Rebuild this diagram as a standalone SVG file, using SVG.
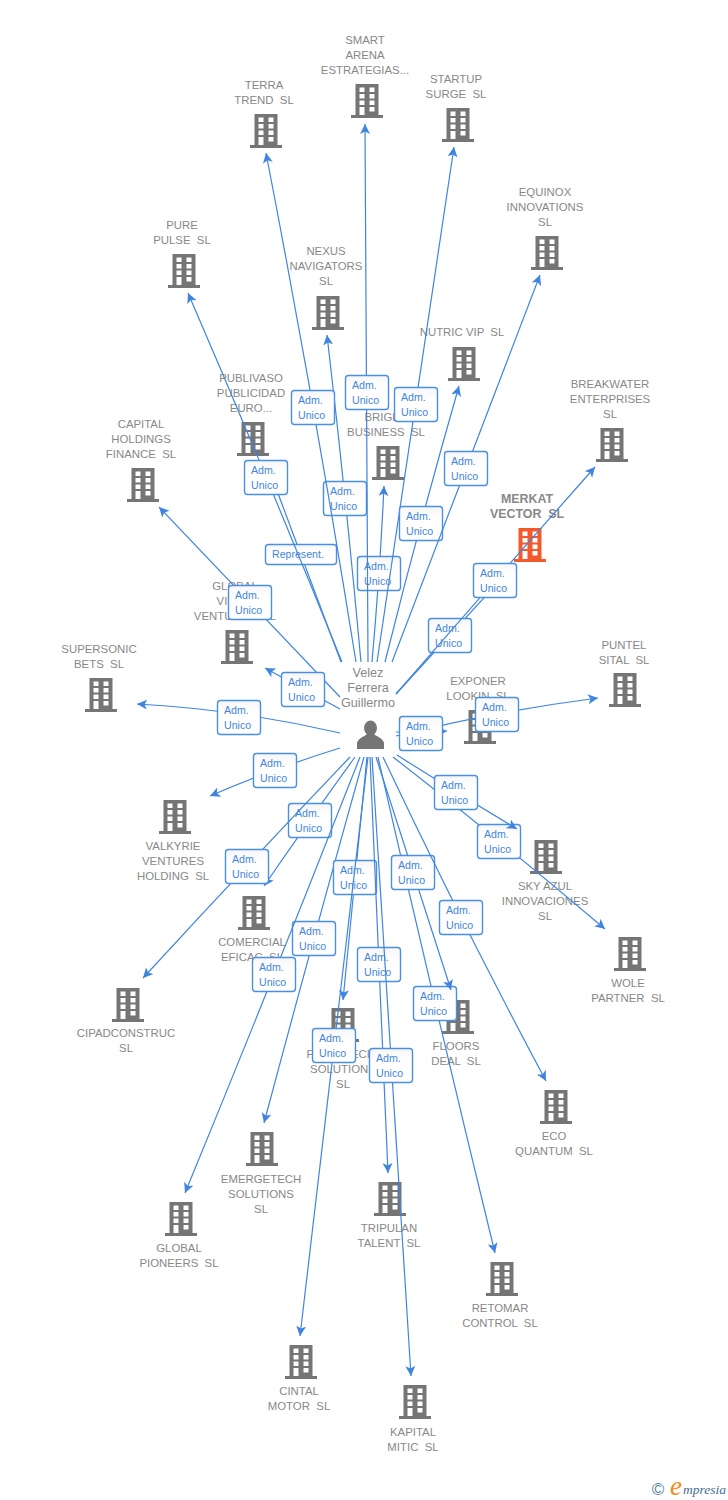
<svg xmlns="http://www.w3.org/2000/svg" width="728" height="1500" viewBox="0 0 728 1500">
<style>
text{font-family:"Liberation Sans",Arial,sans-serif;white-space:pre}
.l{font-size:11.4px;fill:#888;text-anchor:middle}
.m{font-size:12.4px;fill:#888;text-anchor:middle;font-weight:bold}
.p{font-size:12.6px;fill:#888;text-anchor:middle}
.b{fill:url(#g);stroke:#4a8fe6;stroke-width:1.4}
.t{font-size:10.6px;fill:#3f85e0}
.e{fill:none;stroke:#3f85e0;stroke-width:1.2;marker-end:url(#a)}
</style>
<defs>
<linearGradient id="g" x1="0" y1="0" x2="0" y2="1"><stop offset="0" stop-color="#f6f6f6"/><stop offset=".35" stop-color="#fff"/><stop offset="1" stop-color="#fff"/></linearGradient>
<marker id="a" markerUnits="userSpaceOnUse" markerWidth="12" markerHeight="12" refX="10" refY="5" orient="auto"><path d="M0,0 L10,5 L0,10 L2.5,5 Z" fill="#3f85e0"/></marker>
<g id="bld"><path fill-rule="evenodd" d="M-11.5,0H11.5V31H16V34H-16V31H-11.5Z M-7.5,3.5V8H-2.5V3.5Z M2.5,3.5V8H7.5V3.5Z M-7.5,10V14.5H-2.5V10Z M2.5,10V14.5H7.5V10Z M-7.5,16.5V21H-2.5V16.5Z M2.5,16.5V21H7.5V16.5Z M-7.5,23V31H-2.5V23Z M2.5,23V27.5H7.5V23Z"/></g>
</defs>
<rect width="728" height="1500" fill="#fff"/>
<g id="nodes" fill="#757575">
<g id="n-smart"><use href="#bld" x="367" y="84"/><text class="l" x="365" y="44">SMART</text><text class="l" x="365" y="59">ARENA</text><text class="l" x="365" y="74">ESTRATEGIAS...</text></g>
<g id="n-terra"><use href="#bld" x="266" y="114"/><text class="l" x="264" y="89">TERRA</text><text class="l" x="264" y="104">TREND  SL</text></g>
<g id="n-startup"><use href="#bld" x="458" y="108"/><text class="l" x="456" y="83">STARTUP</text><text class="l" x="456" y="98">SURGE  SL</text></g>
<g id="n-equinox"><use href="#bld" x="547" y="236"/><text class="l" x="545" y="196">EQUINOX</text><text class="l" x="545" y="211">INNOVATIONS</text><text class="l" x="545" y="226">SL</text></g>
<g id="n-pure"><use href="#bld" x="184" y="254"/><text class="l" x="182" y="229">PURE</text><text class="l" x="182" y="244">PULSE  SL</text></g>
<g id="n-nexus"><use href="#bld" x="328" y="296"/><text class="l" x="326" y="255">NEXUS</text><text class="l" x="326" y="270">NAVIGATORS</text><text class="l" x="326" y="285">SL</text></g>
<g id="n-nutric"><use href="#bld" x="464" y="347"/><text class="l" x="462" y="336">NUTRIC VIP  SL</text></g>
<g id="n-publivaso"><use href="#bld" x="253" y="422"/><text class="l" x="251" y="382">PUBLIVASO</text><text class="l" x="251" y="397">PUBLICIDAD</text><text class="l" x="251" y="412">EURO...</text></g>
<g id="n-bright"><use href="#bld" x="388" y="446"/><text class="l" x="386" y="421">BRIGHT</text><text class="l" x="386" y="436">BUSINESS  SL</text></g>
<g id="n-breakwater"><use href="#bld" x="612" y="428"/><text class="l" x="610" y="388">BREAKWATER</text><text class="l" x="610" y="403">ENTERPRISES</text><text class="l" x="610" y="418">SL</text></g>
<g id="n-capital"><use href="#bld" x="143" y="468"/><text class="l" x="141" y="428">CAPITAL</text><text class="l" x="141" y="443">HOLDINGS</text><text class="l" x="141" y="458">FINANCE  SL</text></g>
<g id="n-merkat"><use href="#bld" x="530" y="528" fill="#f4592b"/><text class="m" x="527" y="503">MERKAT</text><text class="m" x="527" y="518">VECTOR  SL</text></g>
<g id="n-globalvi"><use href="#bld" x="237" y="630"/><text class="l" x="235" y="590">GLOBAL</text><text class="l" x="222" y="605">VI</text><text class="l" x="235" y="620">VENTURES  SL</text></g>
<g id="n-supersonic"><use href="#bld" x="101" y="678"/><text class="l" x="99" y="653">SUPERSONIC</text><text class="l" x="99" y="668">BETS  SL</text></g>
<g id="n-puntel"><use href="#bld" x="625" y="673"/><text class="l" x="624" y="649">PUNTEL</text><text class="l" x="624" y="664">SITAL  SL</text></g>
<g id="n-exponer"><use href="#bld" x="480" y="710"/><text class="l" x="478" y="685">EXPONER</text><text class="l" x="478" y="700">LOOKIN  SL</text></g>
<g id="n-valkyrie"><use href="#bld" x="175" y="800"/><text class="l" x="173" y="850">VALKYRIE</text><text class="l" x="173" y="865">VENTURES</text><text class="l" x="173" y="880">HOLDING  SL</text></g>
<g id="n-sky"><use href="#bld" x="546" y="840"/><text class="l" x="545" y="890">SKY AZUL</text><text class="l" x="545" y="905">INNOVACIONES</text><text class="l" x="545" y="920">SL</text></g>
<g id="n-comercial"><use href="#bld" x="254" y="896"/><text class="l" x="252" y="946">COMERCIAL</text><text class="l" x="252" y="961">EFICAC  SL</text></g>
<g id="n-wole"><use href="#bld" x="630" y="937"/><text class="l" x="628" y="987">WOLE</text><text class="l" x="628" y="1002">PARTNER  SL</text></g>
<g id="n-cipad"><use href="#bld" x="128" y="988"/><text class="l" x="126" y="1037">CIPADCONSTRUC</text><text class="l" x="126" y="1052">SL</text></g>
<g id="n-fintech"><use href="#bld" x="343" y="1008"/><text class="l" x="310" y="1058">F</text><text class="l" x="363" y="1058">ECH</text><text class="l" x="343" y="1073">SOLUTIONS</text><text class="l" x="343" y="1088">SL</text></g>
<g id="n-floors"><use href="#bld" x="458" y="1000"/><text class="l" x="456" y="1050">FLOORS</text><text class="l" x="456" y="1065">DEAL  SL</text></g>
<g id="n-eco"><use href="#bld" x="556" y="1090"/><text class="l" x="554" y="1140">ECO</text><text class="l" x="554" y="1155">QUANTUM  SL</text></g>
<g id="n-emergetech"><use href="#bld" x="262" y="1132"/><text class="l" x="261" y="1183">EMERGETECH</text><text class="l" x="261" y="1198">SOLUTIONS</text><text class="l" x="261" y="1213">SL</text></g>
<g id="n-pioneers"><use href="#bld" x="181" y="1202"/><text class="l" x="179" y="1252">GLOBAL</text><text class="l" x="179" y="1267">PIONEERS  SL</text></g>
<g id="n-tripulan"><use href="#bld" x="390" y="1182"/><text class="l" x="389" y="1232">TRIPULAN</text><text class="l" x="389" y="1247">TALENT  SL</text></g>
<g id="n-retomar"><use href="#bld" x="502" y="1262"/><text class="l" x="500" y="1312">RETOMAR</text><text class="l" x="500" y="1327">CONTROL  SL</text></g>
<g id="n-cintal"><use href="#bld" x="301" y="1345"/><text class="l" x="299" y="1395">CINTAL</text><text class="l" x="299" y="1410">MOTOR  SL</text></g>
<g id="n-kapital"><use href="#bld" x="415" y="1385"/><text class="l" x="413" y="1436">KAPITAL</text><text class="l" x="413" y="1451">MITIC  SL</text></g>
<g id="n-person"><ellipse cx="370.5" cy="728" rx="6.5" ry="7.5"/><path d="M357,749V743C358,738 364,737 367,734H374C377,737 383,738 384,743V749Z"/><text class="p" x="368" y="677">Velez</text><text class="p" x="368" y="692">Ferrera</text><text class="p" x="368" y="707">Guillermo</text></g>
</g>
<g id="connectors">
<path class="e" d="M341,662Q303,560 270,472"/>
<rect class="b" x="265.500" y="544.500" width="71" height="20" rx="3"/><text class="t" x="272" y="558">Represent.</text>
<path class="e" d="M396,694Q453,632 513,566"/>
<rect class="b" x="428.500" y="618.500" width="43" height="34" rx="3"/><text class="t" x="435" y="632">Adm.</text><text class="t" x="435" y="647">Unico</text>
<path class="e" d="M372,662Q380,572 384,486"/>
<rect class="b" x="357.500" y="556.500" width="43" height="34" rx="3"/><text class="t" x="364" y="570">Adm.</text><text class="t" x="364" y="585">Unico</text>
<path class="e" d="M361,662Q346,497 327,335"/>
<rect class="b" x="323.500" y="481.500" width="43" height="34" rx="3"/><text class="t" x="330" y="495">Adm.</text><text class="t" x="330" y="510">Unico</text>
<path class="e" d="M356,662Q315,406 266,153"/>
<rect class="b" x="291.500" y="390.500" width="43" height="34" rx="3"/><text class="t" x="298" y="404">Adm.</text><text class="t" x="298" y="419">Unico</text>
<path class="e" d="M368,662Q367.500,391 365,124"/>
<rect class="b" x="345.500" y="375.500" width="43" height="34" rx="3"/><text class="t" x="352" y="389">Adm.</text><text class="t" x="352" y="404">Unico</text>
<path class="e" d="M377,662Q416.500,403 454,147"/>
<rect class="b" x="394.500" y="387.500" width="43" height="34" rx="3"/><text class="t" x="401" y="401">Adm.</text><text class="t" x="401" y="416">Unico</text>
<path class="e" d="M385,662Q420,522 459,386"/>
<rect class="b" x="399.500" y="506.500" width="43" height="34" rx="3"/><text class="t" x="406" y="520">Adm.</text><text class="t" x="406" y="535">Unico</text>
<path class="e" d="M392,662Q466,467 540,275"/>
<rect class="b" x="444.500" y="451.500" width="43" height="34" rx="3"/><text class="t" x="451" y="465">Adm.</text><text class="t" x="451" y="480">Unico</text>
<path class="e" d="M342,662Q267,476 188,293"/>
<rect class="b" x="244.500" y="460.500" width="43" height="34" rx="3"/><text class="t" x="251" y="474">Adm.</text><text class="t" x="251" y="489">Unico</text>
<path class="e" d="M340,697Q250,602 159,507"/>
<rect class="b" x="228.500" y="585.500" width="43" height="34" rx="3"/><text class="t" x="235" y="599">Adm.</text><text class="t" x="235" y="614">Unico</text>
<path class="e" d="M340,709Q303,689 265,668"/>
<rect class="b" x="281.500" y="672.500" width="43" height="34" rx="3"/><text class="t" x="288" y="686">Adm.</text><text class="t" x="288" y="701">Unico</text>
<path class="e" d="M340,733Q239.500,709.500 137,704"/>
<rect class="b" x="217.500" y="700.500" width="43" height="34" rx="3"/><text class="t" x="224" y="714">Adm.</text><text class="t" x="224" y="729">Unico</text>
<path class="e" d="M340,748Q275,768 210,796"/>
<rect class="b" x="253.500" y="753.500" width="43" height="34" rx="3"/><text class="t" x="260" y="767">Adm.</text><text class="t" x="260" y="782">Unico</text>
<path class="e" d="M355,757Q310.500,818.500 264,886"/>
<rect class="b" x="288.500" y="803.500" width="43" height="34" rx="3"/><text class="t" x="295" y="817">Adm.</text><text class="t" x="295" y="832">Unico</text>
<path class="e" d="M350,757Q247.500,864.500 143,978"/>
<rect class="b" x="225.500" y="849.500" width="43" height="34" rx="3"/><text class="t" x="232" y="863">Adm.</text><text class="t" x="232" y="878">Unico</text>
<path class="e" d="M364,757Q314,936 264,1123"/>
<rect class="b" x="292.500" y="921.500" width="43" height="34" rx="3"/><text class="t" x="299" y="935">Adm.</text><text class="t" x="299" y="950">Unico</text>
<path class="e" d="M360,757Q275.500,973 185,1193"/>
<rect class="b" x="252.500" y="957.500" width="43" height="34" rx="3"/><text class="t" x="259" y="971">Adm.</text><text class="t" x="259" y="986">Unico</text>
<path class="e" d="M367,757Q355,875.500 343,1000"/>
<rect class="b" x="333.500" y="860.500" width="43" height="34" rx="3"/><text class="t" x="340" y="874">Adm.</text><text class="t" x="340" y="889">Unico</text>
<path class="e" d="M368,757Q334,1043.500 300,1336"/>
<rect class="b" x="312.500" y="1028.500" width="43" height="34" rx="3"/><text class="t" x="319" y="1042">Adm.</text><text class="t" x="319" y="1057">Unico</text>
<path class="e" d="M370,757Q379,963 388,1173"/>
<rect class="b" x="357.500" y="947.500" width="43" height="34" rx="3"/><text class="t" x="364" y="961">Adm.</text><text class="t" x="364" y="976">Unico</text>
<path class="e" d="M372,757Q390.500,1063.500 411,1376"/>
<rect class="b" x="369.500" y="1048.500" width="43" height="34" rx="3"/><text class="t" x="376" y="1062">Adm.</text><text class="t" x="376" y="1077">Unico</text>
<path class="e" d="M378,757Q433.500,1001 495,1253"/>
<rect class="b" x="413.500" y="986.500" width="43" height="34" rx="3"/><text class="t" x="420" y="1000">Adm.</text><text class="t" x="420" y="1015">Unico</text>
<path class="e" d="M376,757Q412.500,870.500 451,990"/>
<rect class="b" x="391.500" y="855.500" width="43" height="34" rx="3"/><text class="t" x="398" y="869">Adm.</text><text class="t" x="398" y="884">Unico</text>
<path class="e" d="M383,757Q457.500,915 546,1081"/>
<rect class="b" x="439.500" y="900.500" width="43" height="34" rx="3"/><text class="t" x="446" y="914">Adm.</text><text class="t" x="446" y="929">Unico</text>
<path class="e" d="M393,757Q499,839 605,929"/>
<rect class="b" x="477.500" y="824.500" width="43" height="34" rx="3"/><text class="t" x="484" y="838">Adm.</text><text class="t" x="484" y="853">Unico</text>
<path class="e" d="M397,755Q455,792 517,829"/>
<rect class="b" x="434.500" y="775.500" width="43" height="34" rx="3"/><text class="t" x="441" y="789">Adm.</text><text class="t" x="441" y="804">Unico</text>
<path class="e" d="M396,736Q496.500,711 598,698"/>
<rect class="b" x="475.500" y="697.500" width="43" height="34" rx="3"/><text class="t" x="482" y="711">Adm.</text><text class="t" x="482" y="726">Unico</text>
<path class="e" d="M396,732Q421,733 447,731"/>
<rect class="b" x="399.500" y="716.500" width="43" height="34" rx="3"/><text class="t" x="406" y="730">Adm.</text><text class="t" x="406" y="745">Unico</text>
<path class="e" d="M396,694Q495,580 595,467"/>
<rect class="b" x="473.500" y="563.500" width="43" height="34" rx="3"/><text class="t" x="480" y="577">Adm.</text><text class="t" x="480" y="592">Unico</text>
</g>
<g id="logo">
<text x="658" y="1495" font-size="17" fill="#4f7f9c" text-anchor="middle">©</text>
<text x="670" y="1495" style="font-family:'Liberation Serif',serif;font-style:italic;font-size:27px;fill:#f08a1e">e</text>
<text x="683" y="1494" style="font-family:'Liberation Serif',serif;font-style:italic;font-size:13.5px;fill:#3f6f8f">mpresia</text>
</g>
</svg>
